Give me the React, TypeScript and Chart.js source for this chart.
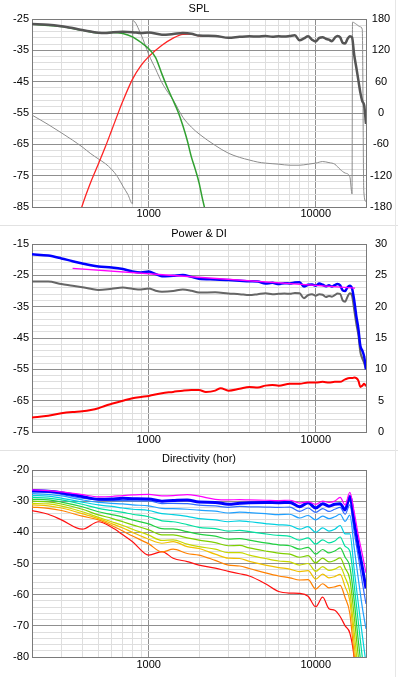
import React, { useEffect, useRef } from "react";
import { Chart, registerables } from "chart.js";

Chart.register(...registerables);

// ---------- shared axis data ----------
const freqGrid = [200, 300, 400, 500, 600, 700, 800, 900, 1000, 2000, 3000, 4000, 5000, 6000, 7000, 8000, 9000, 10000, 20000];
const freqLabels = [1000, 10000];

// ---------- SPL panel ----------
const splDbLabels = [-25, -35, -45, -55, -65, -75, -85];
const phaseLabels = [180, 120, 60, 0, -60, -120, -180];

const splFreq = [200, 250, 300, 350, 400, 450, 500, 550, 600, 700, 800, 900, 1000, 1200, 1400, 1600, 1800, 2000, 2500, 3000, 3500, 4000, 4500, 5000, 5500, 6000, 6500, 7000, 7500, 8000, 8500, 9000, 9500, 10000, 10500, 11000, 11500, 12000, 12500, 13000, 13500, 14000, 14500, 15000, 15500, 16000, 16500, 17000, 17500, 18000, 18500, 19000, 19500, 20000];
const splTotal = [-26.6, -26.8, -27.3, -27.9, -28.5, -29.0, -29.4, -29.5, -29.3, -29.1, -29.2, -29.5, -29.3, -30.0, -29.8, -29.5, -29.7, -30.3, -30.4, -31.0, -30.7, -30.5, -30.6, -30.4, -30.7, -30.5, -30.6, -30.4, -30.2, -31.8, -31.2, -30.5, -31.6, -32.2, -31.0, -30.8, -31.3, -31.6, -32.1, -31.0, -30.4, -30.8, -32.6, -32.8, -31.4, -30.5, -30.9, -36.5, -40.5, -44.5, -48.5, -51.2, -52.5, -58.5];

const wooferFreq = [200, 300, 400, 500, 600, 700, 800, 900, 1000, 1100, 1200, 1300, 1400, 1500, 1600, 1700, 1800, 1900, 2000, 2100, 2200];
const wooferSpl = [-26.7, -27.4, -28.6, -29.4, -29.3, -29.6, -30.7, -32.5, -34.5, -37.3, -42.6, -47.2, -51.0, -54.7, -59.0, -63.7, -69.0, -73.0, -77.2, -82.5, -87.0];

const tweeterFreq = [390, 400, 450, 500, 550, 600, 650, 700, 800, 900, 1000, 1200, 1400, 1600, 1800, 2000, 2500];
const tweeterSpl = [-86.5, -84.5, -77.0, -71.2, -65.8, -60.5, -55.6, -51.2, -44.2, -39.8, -37.0, -33.4, -31.1, -29.9, -29.8, -30.4, -30.5];

const phaseFreq = [200, 250, 300, 350, 400, 450, 500, 550, 600, 650, 700, 750, 800, 802, 900, 1000, 1100, 1200, 1300, 1400, 1600, 1800, 2000, 2500, 3000, 3500, 4000, 4500, 5000, 6000, 7000, 8000, 9000, 10000, 11000, 12000, 13000, 14000, 15000, 16000, 16500, 16600, 17500, 18500, 19000, 19400, 20000];
const phaseDeg = [-4, -22, -38, -52, -65, -78, -88, -97, -108, -122, -140, -156, -174, 177, 150, 112, 84, 58, 40, 25, -8, -27, -40, -62, -77, -85, -90, -94, -96, -98, -100, -100, -98, -96, -93, -95, -98, -108, -115, -122, -155, 174, 170, 165, 160, -150, -170];

// ---------- Power & DI panel ----------
const pdDbLabels = [-15, -25, -35, -45, -55, -65, -75];
const diLabels = [30, 25, 20, 15, 10, 5, 0];

const pdFreq = [200, 250, 300, 350, 400, 450, 500, 600, 700, 800, 900, 1000, 1100, 1200, 1400, 1600, 1800, 2000, 2500, 3000, 3500, 4000, 4500, 5000, 5500, 6000, 6500, 7000, 7500, 8000, 8500, 9000, 9500, 10000, 10500, 11000, 11500, 12000, 12500, 13000, 13500, 14000, 14500, 15000, 15500, 16000, 16500, 17000, 17500, 18000, 18500, 19000, 19500, 20000];
const pdBlue = [-18.3, -18.7, -19.6, -20.5, -21.2, -21.8, -22.2, -22.5, -23.0, -23.8, -24.1, -23.8, -24.6, -25.3, -25.1, -24.9, -25.5, -26.1, -26.3, -26.5, -26.7, -26.9, -27.0, -27.6, -27.4, -27.8, -27.5, -27.6, -27.3, -27.2, -28.6, -28.0, -27.9, -28.3, -27.6, -28.0, -28.5, -28.2, -28.6, -28.1, -27.8, -28.2, -29.8, -30.0, -28.8, -28.3, -29.2, -33.0, -38.0, -42.0, -47.5, -49.0, -51.0, -55.0];
const pdGray = [-27.0, -27.0, -27.8, -28.3, -28.8, -29.3, -29.7, -29.3, -28.9, -29.3, -29.5, -29.2, -29.9, -30.2, -30.0, -29.5, -29.9, -30.5, -30.4, -30.8, -31.0, -31.3, -31.0, -30.7, -31.0, -30.9, -30.8, -30.9, -30.6, -30.7, -32.3, -31.3, -31.0, -31.5, -31.0, -31.2, -31.9, -31.6, -31.8, -31.3, -30.8, -30.9, -33.0, -33.4, -31.8, -30.7, -31.5, -36.0, -40.5, -44.0, -49.5, -51.5, -53.0, -55.0];

const targetFreq = [350, 17200];
const targetSpl = [-22.8, -29.1];

const diFreq = [200, 250, 300, 350, 400, 450, 500, 550, 600, 700, 800, 900, 1000, 1200, 1400, 1600, 1800, 2000, 2200, 2500, 2700, 3000, 3500, 4000, 4500, 5000, 5500, 6000, 7000, 8000, 9000, 10000, 11000, 12000, 13000, 14000, 15000, 16000, 16500, 17000, 17500, 18000, 18500, 19000, 19500, 20000];
const diValues = [2.3, 2.6, 3.0, 3.2, 3.3, 3.5, 3.8, 4.2, 4.5, 5.0, 5.4, 5.6, 5.75, 6.2, 6.4, 6.6, 6.7, 6.7, 6.4, 6.6, 7.0, 6.6, 6.9, 7.2, 7.1, 7.4, 7.5, 7.4, 7.7, 7.7, 7.9, 7.9, 8.0, 7.9, 8.0, 8.0, 8.4, 8.6, 8.6, 8.7, 8.6, 8.2, 7.2, 7.4, 7.7, 7.3];

// ---------- Directivity panel ----------
const dirDbLabels = [-20, -30, -40, -50, -60, -70, -80];
const dirFreq = [200, 250, 300, 400, 500, 600, 700, 800, 1000, 1200, 1400, 1700, 2000, 2500, 3000, 3500, 4000, 5000, 6000, 7000, 8000, 9000, 10000, 11000, 12000, 13000, 14000, 15000, 16000, 17000, 18000, 19000, 20000];
const dir0 = [-26.4, -26.6, -27.0, -27.9, -28.6, -28.5, -28.2, -28.0, -27.8, -28.3, -28.2, -27.9, -28.4, -29.4, -29.6, -29.5, -29.6, -29.7, -29.8, -29.7, -30.6, -30.2, -31.0, -30.0, -30.4, -30.0, -28.8, -31.2, -27.2, -33.5, -41.0, -47.0, -53.0];
const dir1 = [-26.6, -26.8, -27.3, -28.5, -29.4, -29.3, -29.1, -29.2, -29.3, -30.0, -29.8, -29.6, -30.3, -30.4, -31.0, -30.7, -30.5, -30.4, -30.5, -30.4, -31.8, -30.5, -32.2, -30.8, -31.6, -31.0, -30.8, -32.8, -28.5, -36.5, -44.5, -51.2, -58.0];
const dir2 = [-27.1, -27.2, -27.8, -29.0, -29.6, -29.8, -29.8, -29.9, -29.9, -30.8, -30.7, -30.8, -31.3, -31.5, -32.0, -31.7, -31.8, -31.9, -32.0, -31.9, -33.3, -32.2, -33.6, -32.4, -33.3, -32.6, -32.0, -34.2, -31.2, -40.0, -48.0, -56.0, -63.0];
const dir3 = [-27.6, -27.8, -28.3, -29.6, -30.4, -30.7, -30.9, -31.2, -31.5, -32.3, -32.4, -32.6, -32.9, -33.2, -33.8, -33.5, -33.7, -34.0, -34.3, -34.2, -35.4, -34.6, -36.0, -34.8, -35.6, -35.0, -34.2, -36.5, -34.5, -45.0, -55.0, -64.0, -71.0];
const dir4 = [-28.2, -28.4, -29.0, -30.3, -31.2, -31.7, -32.2, -32.6, -33.0, -34.0, -34.3, -34.9, -35.6, -36.0, -36.6, -36.3, -36.6, -37.2, -37.6, -37.8, -39.0, -38.2, -40.0, -38.6, -39.6, -39.0, -37.8, -40.5, -40.5, -52.0, -63.0, -73.0, -82.0];
const dir5 = [-28.8, -29.0, -29.6, -31.0, -32.3, -33.0, -33.6, -34.2, -35.0, -36.3, -36.6, -37.5, -38.4, -38.8, -39.6, -39.4, -39.8, -40.5, -41.0, -41.3, -42.5, -41.8, -43.8, -42.4, -43.4, -42.8, -41.5, -44.5, -46.0, -57.0, -69.0, -80.0, -90.0];
const dir6 = [-29.4, -29.6, -30.3, -31.8, -33.4, -34.3, -35.1, -36.0, -37.3, -38.8, -38.9, -39.8, -40.6, -41.2, -42.2, -42.0, -42.5, -43.4, -44.0, -44.3, -45.4, -44.8, -47.0, -45.5, -46.6, -46.0, -45.0, -48.0, -51.0, -62.0, -75.0, -86.0, -95.0];
const dir7 = [-30.0, -30.2, -30.9, -32.6, -34.4, -35.5, -36.6, -37.6, -39.2, -40.8, -40.8, -41.8, -42.5, -43.3, -44.3, -44.2, -45.0, -46.0, -46.7, -47.0, -48.0, -47.5, -49.8, -48.3, -49.5, -49.0, -48.2, -51.5, -55.0, -67.0, -80.0, -90.0, -100.0];
const dir8 = [-30.7, -30.9, -31.6, -33.4, -35.2, -36.6, -37.8, -39.0, -40.9, -42.6, -42.4, -43.8, -44.6, -45.4, -46.5, -46.5, -47.3, -48.4, -49.2, -49.5, -50.5, -50.0, -52.5, -51.0, -52.2, -51.8, -51.0, -54.5, -59.0, -72.0, -85.0, -95.0, -105.0];
const dir9 = [-31.2, -31.5, -32.2, -34.0, -35.6, -37.2, -38.6, -40.0, -42.2, -43.5, -43.0, -44.6, -45.2, -47.0, -48.3, -48.4, -49.3, -50.5, -51.3, -51.8, -52.6, -52.3, -55.0, -53.4, -54.6, -54.2, -53.5, -57.5, -62.0, -76.0, -90.0, -100.0, -110.0];
const dir10 = [-31.9, -32.3, -33.0, -34.8, -36.0, -37.8, -39.6, -41.2, -43.7, -46.3, -45.4, -46.8, -47.3, -49.0, -50.5, -50.8, -51.6, -53.0, -54.0, -54.6, -55.3, -55.2, -58.2, -56.5, -57.8, -57.5, -57.0, -61.0, -66.0, -80.0, -95.0, -105.0, -115.0];
const dir11 = [-33.0, -34.2, -36.0, -39.0, -36.6, -38.4, -40.8, -43.0, -47.3, -46.2, -48.3, -49.4, -50.5, -51.5, -52.5, -53.3, -54.0, -56.5, -59.0, -59.5, -59.6, -60.5, -63.9, -60.8, -64.5, -65.0, -67.0, -70.0, -72.3, -80.5, -100.0, -110.0, -120.0];
const dirSeries = [dir0, dir1, dir2, dir3, dir4, dir5, dir6, dir7, dir8, dir9, dir10, dir11];
const dirColors = ["#ff00ff", "#0000ff", "#2f6bff", "#1fa0ff", "#00d0e0", "#00e0a0", "#20d040", "#7ed000", "#c8d800", "#f0c000", "#ff8000", "#ff1010"];

// ---------- styling ----------
const FONT = { family: "'Liberation Sans', Arial, sans-serif", size: 11 };
const MAJOR = "#8f8f8f";
const MINOR = "#dedede";
const BORDER = "#7a7a7a";
const W = 398;

const pts = (xs: number[], ys: number[]) => xs.map((x, i) => ({ x, y: ys[i] }));

function xAxis(xh: number, pad: number) {
  return {
    type: "logarithmic",
    position: "bottom",
    min: 200,
    max: 20000,
    afterBuildTicks: (s: any) => {
      s.ticks = freqGrid.map((v) => ({ value: v }));
    },
    afterFit: (s: any) => {
      s.height = xh;
    },
    ticks: {
      autoSkip: false,
      maxRotation: 0,
      minRotation: 0,
      padding: pad,
      color: "#000",
      font: FONT,
      callback: (v: any) => (freqLabels.includes(Number(v)) ? String(v) : ""),
    },
    grid: {
      drawTicks: false,
      lineWidth: 1,
      color: (c: any) => {
        const v = c.tick ? c.tick.value : 0;
        if (v === 200 || v === 20000) return BORDER;
        return freqLabels.includes(v) ? MAJOR : MINOR;
      },
    },
    border: { display: true, color: BORDER, width: 1 },
  };
}

function yLeft(min: number, max: number, labels: number[]) {
  const grid: number[] = [];
  for (let v = min; v <= max; v += 2) grid.push(v);
  return {
    type: "linear",
    position: "left",
    min,
    max,
    afterBuildTicks: (s: any) => {
      s.ticks = grid.map((v) => ({ value: v }));
    },
    afterFit: (s: any) => {
      s.width = 32;
    },
    ticks: {
      autoSkip: false,
      padding: 3,
      color: "#000",
      font: FONT,
      callback: (v: any) => (labels.includes(Number(v)) ? String(v) : ""),
    },
    grid: {
      drawTicks: false,
      lineWidth: 1,
      color: (c: any) => {
        const v = c.tick ? c.tick.value : 0;
        if (v === min || v === max) return BORDER;
        return labels.includes(v) ? MAJOR : MINOR;
      },
    },
    border: { display: true, color: BORDER, width: 1 },
  };
}

function yRight(min: number, max: number, labels: number[] | null, pad: number) {
  return {
    type: "linear",
    position: "right",
    min,
    max,
    afterBuildTicks: (s: any) => {
      s.ticks = (labels || [min, max]).map((v) => ({ value: v }));
    },
    afterFit: (s: any) => {
      s.width = 32;
    },
    ticks: {
      display: !!labels,
      autoSkip: false,
      crossAlign: "center",
      padding: pad,
      color: "#000",
      font: FONT,
      callback: (v: any) => String(v),
    },
    grid: { display: false, drawTicks: false },
    border: { display: true, color: BORDER, width: 1 },
  };
}

function titlePlugin(text: string, y: number) {
  return {
    id: "panelTitle",
    afterDraw(chart: any) {
      const ctx = chart.ctx;
      ctx.save();
      ctx.font = "11px 'Liberation Sans', Arial, sans-serif";
      ctx.fillStyle = "#000";
      ctx.textAlign = "center";
      ctx.textBaseline = "middle";
      ctx.fillText(text, 199, y);
      ctx.restore();
    },
  };
}

function baseOptions(padTop: number, scales: any) {
  return {
    animation: false,
    responsive: false,
    maintainAspectRatio: false,
    devicePixelRatio: 1,
    events: [],
    layout: { padding: { top: padTop, left: 0, right: 0, bottom: 0 } },
    plugins: { legend: { display: false }, tooltip: { enabled: false }, title: { display: false } },
    elements: { point: { radius: 0 }, line: { cubicInterpolationMode: "monotone", fill: false } },
    scales,
  };
}

function splConfig(): any {
  return {
    type: "line",
    data: {
      datasets: [
        { data: pts(splFreq, splTotal), borderColor: "#555555", borderWidth: 2.5, yAxisID: "y" },
        { data: pts(wooferFreq, wooferSpl), borderColor: "#30a030", borderWidth: 1.5, yAxisID: "y" },
        { data: pts(tweeterFreq, tweeterSpl), borderColor: "#ff2424", borderWidth: 1.3, yAxisID: "y" },
        { data: pts(phaseFreq, phaseDeg), borderColor: "#8c8c8c", borderWidth: 1, yAxisID: "y1" },
      ],
    },
    options: baseOptions(19, { x: xAxis(18, 0), y: yLeft(-85, -25, splDbLabels), y1: yRight(-180, 180, phaseLabels, 4) }),
    plugins: [titlePlugin("SPL", 9)],
  };
}

function pdConfig(): any {
  return {
    type: "line",
    data: {
      datasets: [
        { data: pts(targetFreq, targetSpl), borderColor: "#ff00ff", borderWidth: 1.3, yAxisID: "y" },
        { data: pts(pdFreq, pdBlue), borderColor: "#0000ff", borderWidth: 2.5, yAxisID: "y" },
        { data: pts(pdFreq, pdGray), borderColor: "#666666", borderWidth: 2, yAxisID: "y" },
        { data: pts(diFreq, diValues), borderColor: "#ff0000", borderWidth: 2, yAxisID: "y1" },
      ],
    },
    options: baseOptions(19, { x: xAxis(18, 1), y: yLeft(-75, -15, pdDbLabels), y1: yRight(0, 30, diLabels, 9) }),
    plugins: [titlePlugin("Power & DI", 9)],
  };
}

function dirConfig(): any {
  return {
    type: "line",
    data: {
      datasets: dirSeries.map((s, i) => ({
        data: pts(dirFreq, s),
        borderColor: dirColors[i],
        borderWidth: i === 1 ? 3 : 1.2,
        yAxisID: "y",
      })),
    },
    options: baseOptions(20, { x: xAxis(20, 1), y: yLeft(-80, -20, dirDbLabels), y1: yRight(0, 1, null, 4) }),
    plugins: [titlePlugin("Directivity (hor)", 9)],
  };
}

function Panel({ top, height, make }: { top: number; height: number; make: () => any }) {
  const ref = useRef<HTMLCanvasElement>(null);
  useEffect(() => {
    const chart = new Chart(ref.current as HTMLCanvasElement, make());
    return () => chart.destroy();
  }, []);
  return (
    <canvas
      ref={ref}
      width={W}
      height={height}
      style={{ position: "absolute", left: 0, top, width: W, height, display: "block" }}
    />
  );
}

export default function App() {
  useEffect(() => {
    document.body.style.margin = "0";
  }, []);
  return (
    <div style={{ position: "absolute", left: 0, top: 0, width: W, height: 677, background: "#fff", overflow: "hidden" }}>
      <Panel top={0} height={225} make={splConfig} />
      <Panel top={225} height={225} make={pdConfig} />
      <Panel top={450} height={227} make={dirConfig} />
      <div style={{ position: "absolute", left: 0, top: 225, width: W, height: 1, background: "#e2e2e2" }} />
      <div style={{ position: "absolute", left: 0, top: 450, width: W, height: 1, background: "#e2e2e2" }} />
      <div style={{ position: "absolute", left: 395, top: 0, width: 1, height: 677, background: "#e6e6e6" }} />
    </div>
  );
}
